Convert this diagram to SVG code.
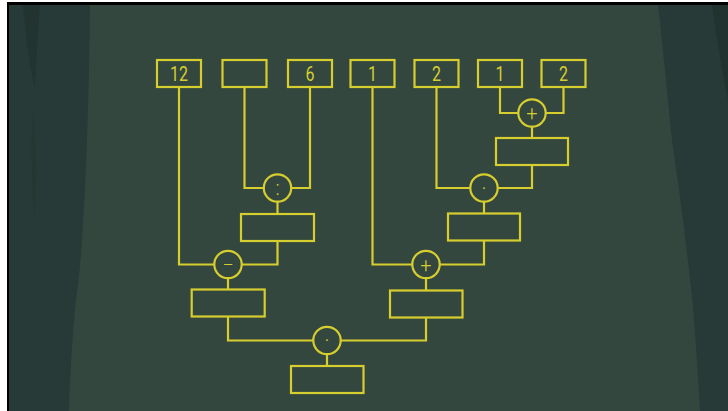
<svg xmlns="http://www.w3.org/2000/svg" width="728" height="411" viewBox="0 0 728 411">
<style>
.box{fill:none;stroke:#d6ce2e;stroke-width:2.2}
.op{fill:#34473f;stroke:#d6ce2e;stroke-width:2.2}
.ln{fill:none;stroke:#d6ce2e;stroke-width:2.2}
.num{fill:#d6ce2e;font-family:Roboto,"Liberation Sans",sans-serif;font-size:19.5px;text-anchor:middle}
.sym{fill:#d6ce2e;font-family:Roboto,"Liberation Sans",sans-serif;font-size:20px;font-weight:300;text-anchor:middle}
</style>
<rect x="0" y="0" width="728" height="411" fill="#ffffff"/>
<rect x="7" y="2" width="721" height="409" fill="#000000"/>
<rect x="9" y="5" width="719" height="406" fill="#34473f"/>
<path d="M9,5 H90 C89,120 84,250 76,300 C72,340 70,380 69,411 H9 Z" fill="#283a37"/>
<path d="M23,5 H40 C37,40 36,70 35,87 C30,70 26,40 23,5 Z" fill="#23332f"/>
<path d="M33,110 C36,140 38,180 34,220 C32,180 30,140 33,110 Z" fill="#25352f" opacity="0.6"/>
<path d="M658,5 H728 V411 H700 C697,360 694,310 690,280 C684,220 676,170 672,140 C667,90 662,40 658,5 Z" fill="#283a37"/>
<path d="M712,5 H728 V100 C722,70 716,35 712,5 Z" fill="#22322f"/>
<g id="connectors">
<path class="ln" d="M179,87 V264.5 H214.3"/>
<path class="ln" d="M244.5,87 V188 H263.8"/>
<path class="ln" d="M310,87 V188 H291.2"/>
<path class="ln" d="M277.5,201.7 V214"/>
<path class="ln" d="M277.5,241 V264.5 H241.7"/>
<path class="ln" d="M228,278.2 V289.5"/>
<path class="ln" d="M228,316.5 V340.5 H313.3"/>
<path class="ln" d="M372.5,87 V264.5 H412.3"/>
<path class="ln" d="M436.5,87 V188 H470.3"/>
<path class="ln" d="M500,87 V113 H518.3"/>
<path class="ln" d="M563.5,87 V113 H545.7"/>
<path class="ln" d="M532,126.7 V138"/>
<path class="ln" d="M532,165 V188 H497.7"/>
<path class="ln" d="M484,201.7 V213.5"/>
<path class="ln" d="M484,240.5 V264.5 H439.7"/>
<path class="ln" d="M426,278.2 V290.5"/>
<path class="ln" d="M426,317.5 V340.5 H340.7"/>
<path class="ln" d="M327,354.2 V366"/>
</g>
<g id="n12"><rect class="box" x="157" y="60" width="44" height="27"/><text class="num" transform="translate(179,81) scale(0.82,1)">12</text></g>
<g id="nblank"><rect class="box" x="222.5" y="60" width="44" height="27"/></g>
<g id="n6"><rect class="box" x="288" y="60" width="44" height="27"/><text class="num" transform="translate(310,81) scale(0.82,1)">6</text></g>
<g id="n1a"><rect class="box" x="350.5" y="60" width="44" height="27"/><text class="num" transform="translate(372.5,81) scale(0.82,1)">1</text></g>
<g id="n2a"><rect class="box" x="414.5" y="60" width="44" height="27"/><text class="num" transform="translate(436.5,81) scale(0.82,1)">2</text></g>
<g id="n1b"><rect class="box" x="478" y="60" width="44" height="27"/><text class="num" transform="translate(500,81) scale(0.82,1)">1</text></g>
<g id="n2b"><rect class="box" x="541.5" y="60" width="44" height="27"/><text class="num" transform="translate(563.5,81) scale(0.82,1)">2</text></g>
<g id="opPlusTop"><circle class="op" cx="532" cy="113" r="13.7"/><text class="sym" x="532" y="120">+</text></g>
<g id="boxPlusTop"><rect class="box" x="496" y="138" width="72" height="27"/></g>
<g id="opDiv"><circle class="op" cx="277.5" cy="188" r="13.7"/><text class="sym" x="277.5" y="194.5">:</text></g>
<g id="boxDiv"><rect class="box" x="241" y="214" width="73" height="27"/></g>
<g id="opMulMid"><circle class="op" cx="484" cy="188" r="13.7"/><text class="sym" x="484" y="194.5">·</text></g>
<g id="boxMulMid"><rect class="box" x="448" y="213.5" width="72" height="27"/></g>
<g id="opMinus"><circle class="op" cx="228" cy="264.5" r="13.7"/><text class="sym" x="228" y="271.5">−</text></g>
<g id="boxMinus"><rect class="box" x="191.7" y="289.5" width="73" height="27"/></g>
<g id="opPlus"><circle class="op" cx="426" cy="264.5" r="13.7"/><text class="sym" x="426" y="271.5">+</text></g>
<g id="boxPlus"><rect class="box" x="390" y="290.5" width="72.5" height="27"/></g>
<g id="opMulBottom"><circle class="op" cx="327" cy="340.5" r="13.7"/><text class="sym" x="327" y="347">·</text></g>
<g id="boxResult"><rect class="box" x="291" y="366" width="72.5" height="27"/></g>
</svg>
